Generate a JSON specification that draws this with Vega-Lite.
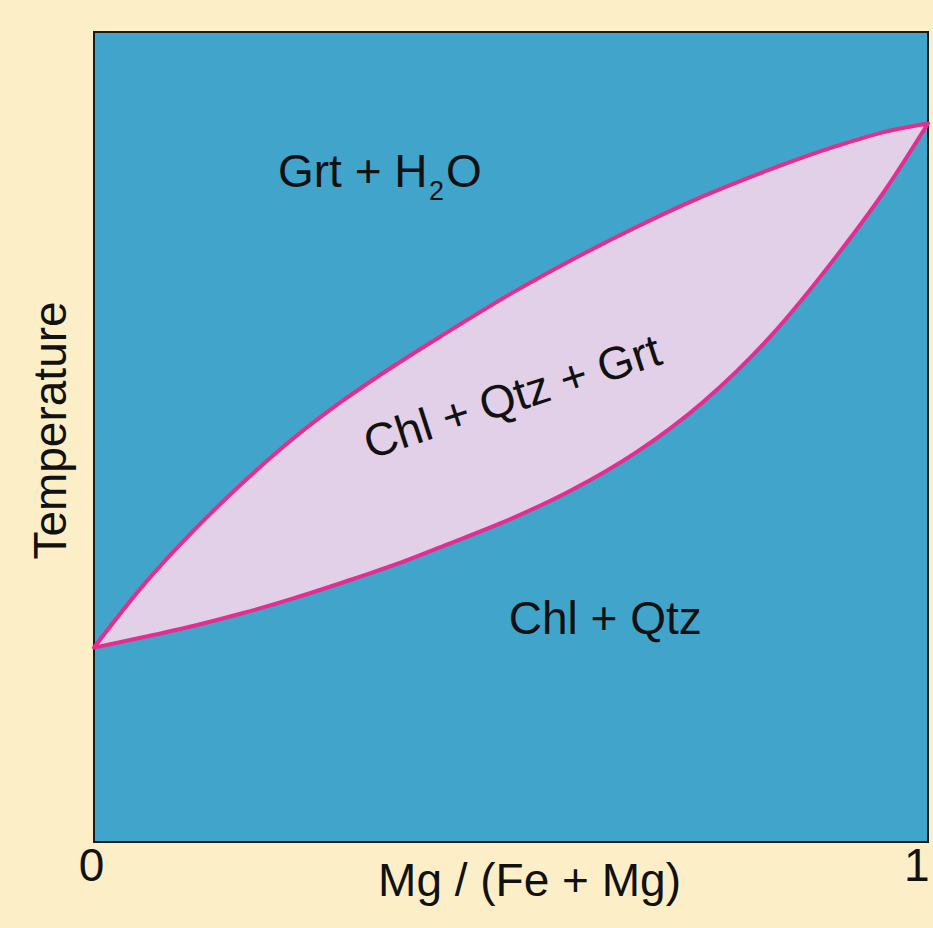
{
  "$schema": "https://vega.github.io/schema/vega-lite/v6.json",
  "width": 834,
  "height": 810,
  "autosize": {"type": "none"},
  "padding": {"left": 94, "top": 32, "right": 5, "bottom": 86},
  "background": "#FCEFC8",
  "config": {
    "view": {"fill": "#40A4CB", "stroke": "#1a1a1a", "strokeWidth": 2},
    "font": "Liberation Sans"
  },
  "datasets": {
    "lens": [
      {"x": 0, "lo": 0.240, "hi": 0.240},
      {"x": 0.06, "lo": 0.253, "hi": 0.318},
      {"x": 0.12, "lo": 0.267, "hi": 0.385},
      {"x": 0.18, "lo": 0.283, "hi": 0.445},
      {"x": 0.24, "lo": 0.301, "hi": 0.499},
      {"x": 0.30, "lo": 0.321, "hi": 0.546},
      {"x": 0.36, "lo": 0.342, "hi": 0.588},
      {"x": 0.42, "lo": 0.366, "hi": 0.627},
      {"x": 0.50, "lo": 0.399, "hi": 0.677},
      {"x": 0.57, "lo": 0.433, "hi": 0.717},
      {"x": 0.65, "lo": 0.481, "hi": 0.759},
      {"x": 0.73, "lo": 0.543, "hi": 0.797},
      {"x": 0.81, "lo": 0.623, "hi": 0.830},
      {"x": 0.89, "lo": 0.723, "hi": 0.859},
      {"x": 0.95, "lo": 0.807, "hi": 0.877},
      {"x": 1, "lo": 0.887, "hi": 0.887}
    ]
  },
  "layer": [
    {
      "data": {"name": "lens"},
      "mark": {"type": "area", "interpolate": "monotone", "fill": "#E2D0E8", "stroke": "#E52D8E", "strokeWidth": 4, "strokeJoin": "round"},
      "encoding": {
        "x": {
          "field": "x", "type": "quantitative", "scale": {"domain": [0, 1]},
          "axis": {
            "title": "Mg / (Fe + Mg)", "values": [0, 1], "format": "d",
            "ticks": false, "domain": false, "grid": false,
            "labelFontSize": 46, "labelColor": "#111111", "labelPadding": 2, "labelFlush": false,
            "labelAlign": {"condition": {"test": "datum.value == 1", "value": "right"}, "value": "center"},
            "labelOffset": {"condition": {"test": "datum.value == 1", "value": 1}, "value": -3},
            "titleFontSize": 46, "titleFontWeight": "normal", "titleColor": "#111111",
            "titleX": 435, "titleY": 53, "titleBaseline": "alphabetic"
          }
        },
        "y": {
          "field": "lo", "type": "quantitative", "scale": {"domain": [0, 1]},
          "axis": {
            "title": "Temperature", "labels": false, "ticks": false, "domain": false, "grid": false,
            "titleFontSize": 46, "titleFontWeight": "normal", "titleColor": "#111111",
            "titleX": -29, "titleY": 398, "titleAngle": -90, "titleAlign": "center", "titleBaseline": "alphabetic"
          }
        },
        "y2": {"field": "hi"}
      }
    },
    {
      "data": {"values": [{"label": "Grt + H", "x": 0.2206, "y": 0.8086}]},
      "mark": {"type": "text", "fontSize": 46, "color": "#111111", "align": "left", "baseline": "alphabetic"},
      "encoding": {
        "x": {"field": "x", "type": "quantitative"},
        "y": {"field": "y", "type": "quantitative"},
        "text": {"field": "label"}
      }
    },
    {
      "data": {"values": [{"label": "2", "x": 0.4017, "y": 0.7926}]},
      "mark": {"type": "text", "fontSize": 27, "color": "#111111", "align": "left", "baseline": "alphabetic"},
      "encoding": {
        "x": {"field": "x", "type": "quantitative"},
        "y": {"field": "y", "type": "quantitative"},
        "text": {"field": "label"}
      }
    },
    {
      "data": {"values": [{"label": "O", "x": 0.422, "y": 0.8086}]},
      "mark": {"type": "text", "fontSize": 46, "color": "#111111", "align": "left", "baseline": "alphabetic"},
      "encoding": {
        "x": {"field": "x", "type": "quantitative"},
        "y": {"field": "y", "type": "quantitative"},
        "text": {"field": "label"}
      }
    },
    {
      "data": {"values": [{"label": "Chl + Qtz", "x": 0.613, "y": 0.274}]},
      "mark": {"type": "text", "fontSize": 46, "color": "#111111", "align": "center", "baseline": "middle"},
      "encoding": {
        "x": {"field": "x", "type": "quantitative"},
        "y": {"field": "y", "type": "quantitative"},
        "text": {"field": "label"}
      }
    },
    {
      "data": {"values": [{"label": "Chl + Qtz + Grt", "x": 0.502, "y": 0.548}]},
      "mark": {"type": "text", "fontSize": 46, "color": "#111111", "align": "center", "baseline": "middle", "angle": -18},
      "encoding": {
        "x": {"field": "x", "type": "quantitative"},
        "y": {"field": "y", "type": "quantitative"},
        "text": {"field": "label"}
      }
    }
  ]
}
